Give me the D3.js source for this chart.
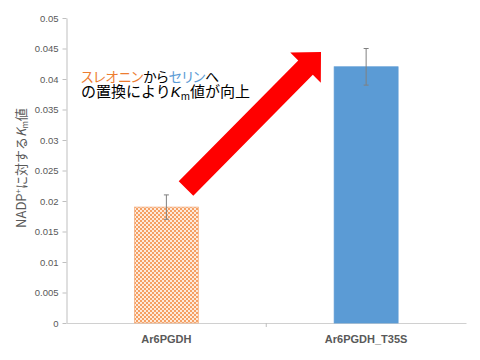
<!DOCTYPE html>
<html><head><meta charset="utf-8">
<script src="https://cdn.jsdelivr.net/npm/d3@7"></script>
<style>
html,body{margin:0;padding:0;background:#fff;}
svg{display:block;font-family:"Noto Sans CJK JP","Noto Sans",sans-serif;}
</style></head>
<body>
<svg id="c" width="480" height="360"></svg>
<script>
const categories = ["Ar6PGDH", "Ar6PGDH_T35S"];
const kmValues = [0.019, 0.042];
const kmErrors = [0.002, 0.003];
const yTicks = [0, 0.005, 0.01, 0.015, 0.02, 0.025, 0.03, 0.035, 0.04, 0.045, 0.05];
const barColors = ["url(#checker)", "#5B9BD5"];
const barStroke = ["#F4B183", "#5B9BD5"];

const svg = d3.select("#c");
const mLeft = 66.5, mRight = 466, mTop = 18, mBottom = 323;

const defs = svg.append("defs");
const pat = defs.append("pattern").attr("id","checker").attr("patternUnits","userSpaceOnUse")
  .attr("width",4).attr("height",4);
pat.append("rect").attr("width",4).attr("height",4).attr("fill","#FDEBDD");
pat.append("rect").attr("width",2).attr("height",2).attr("fill","#F5A063");
pat.append("rect").attr("x",2).attr("y",2).attr("width",2).attr("height",2).attr("fill","#F5A063");

const x = d3.scaleBand().domain(categories).range([mLeft, mRight]).padding(0);
const y = d3.scaleLinear().domain([0, 0.05]).range([mBottom, mTop]);

// y axis
const yAxis = d3.axisLeft(y).tickValues(yTicks).tickSize(4).tickSizeOuter(0).tickPadding(4).tickFormat(d3.format("~g"));
const gy = svg.append("g").attr("transform",`translate(${mLeft},0)`).call(yAxis);
gy.select(".domain").attr("stroke","#BFBFBF");
gy.selectAll(".tick line").attr("stroke","#BFBFBF");
gy.selectAll(".tick text").attr("fill","#595959").attr("font-size","9.5px")
  .attr("font-family","Liberation Sans, Arial, sans-serif");

// x axis
const gx = svg.append("g").attr("transform",`translate(0,${mBottom})`)
  .call(d3.axisBottom(x).tickSize(0).tickPadding(12));
gx.select(".domain").attr("stroke","#D0D0D0");
gx.selectAll(".tick text").attr("fill","#595959").attr("font-size","11px").attr("font-weight","bold")
  .attr("font-family","Liberation Sans, Arial, sans-serif");
// category boundary tick
svg.append("line").attr("x1", x(categories[1])).attr("x2", x(categories[1]))
  .attr("y1", mBottom).attr("y2", mBottom+4).attr("stroke","#BFBFBF");

// bars
const bw = x.bandwidth()*0.32;
svg.selectAll("rect.bar").data(categories).join("rect").attr("class","bar")
  .attr("x", d => x(d) + x.bandwidth()/2 - bw/2)
  .attr("width", bw)
  .attr("y", (d,i) => y(kmValues[i]))
  .attr("height", (d,i) => y(0) - y(kmValues[i]))
  .attr("fill", (d,i) => barColors[i])
  .attr("stroke", (d,i) => barStroke[i]).attr("stroke-width",0.8);

// error bars
const eb = svg.append("g").attr("stroke","#808080").attr("stroke-width",1);
categories.forEach((d,i) => {
  const cx = x(d) + x.bandwidth()/2;
  const y1 = y(kmValues[i]+kmErrors[i]), y2 = y(kmValues[i]-kmErrors[i]);
  eb.append("line").attr("x1",cx).attr("x2",cx).attr("y1",y1).attr("y2",y2);
  eb.append("line").attr("x1",cx-2.5).attr("x2",cx+2.5).attr("y1",y1).attr("y2",y1);
  eb.append("line").attr("x1",cx-2.5).attr("x2",cx+2.5).attr("y1",y2).attr("y2",y2);
});

// red arrow annotation
(function(){
  const ax = 186, ay = 188.5, bx = 321, by = 52;
  const sw = 20.5, hw = 43, hl = 22;
  const dx = bx-ax, dy = by-ay, L = Math.hypot(dx,dy);
  const ux = dx/L, uy = dy/L, nx = -uy, ny = ux;
  const hx = bx - ux*hl, hy = by - uy*hl;
  const pts = [
    [ax+nx*sw/2, ay+ny*sw/2],
    [hx+nx*sw/2, hy+ny*sw/2],
    [hx+nx*hw/2, hy+ny*hw/2],
    [bx, by],
    [hx-nx*hw/2, hy-ny*hw/2],
    [hx-nx*sw/2, hy-ny*sw/2],
    [ax-nx*sw/2, ay-ny*sw/2]
  ];
  svg.append("polygon").attr("points", pts.map(p=>p.join(",")).join(" ")).attr("fill","#FF0000");
})();

// annotation text
const t1 = svg.append("text").attr("x",81).attr("y",82).attr("font-size","13.8px")
  .style("font-feature-settings","'palt'");
t1.append("tspan").attr("fill","#ED7D31").text("スレオニン");
t1.append("tspan").attr("fill","#000").text("から");
t1.append("tspan").attr("fill","#5B9BD5").text("セリン");
t1.append("tspan").attr("fill","#000").text("へ");
const t2 = svg.append("text").attr("x",81).attr("y",97).attr("font-size","15px").attr("fill","#000");
t2.append("tspan").text("の置換により");
t2.append("tspan").attr("font-style","italic").attr("font-family","Liberation Sans, Arial, sans-serif").text("K");
t2.append("tspan").attr("font-size","10px").attr("dy",3).text("m");
t2.append("tspan").attr("dy",-3).text("値が向上");

// y label
const yl = svg.append("text").attr("transform","translate(26,168) rotate(-90)")
  .attr("text-anchor","middle").attr("font-size","13px").attr("fill","#595959");
yl.append("tspan").text("NADP");
yl.append("tspan").attr("font-size","8px").attr("dy",-5).text("+");
yl.append("tspan").attr("dy",5).text("に対する");
yl.append("tspan").attr("font-style","italic").text("K");
yl.append("tspan").attr("font-size","8px").attr("dy",2).text("m");
yl.append("tspan").attr("dy",-2).text("値");
</script>
</body></html>
